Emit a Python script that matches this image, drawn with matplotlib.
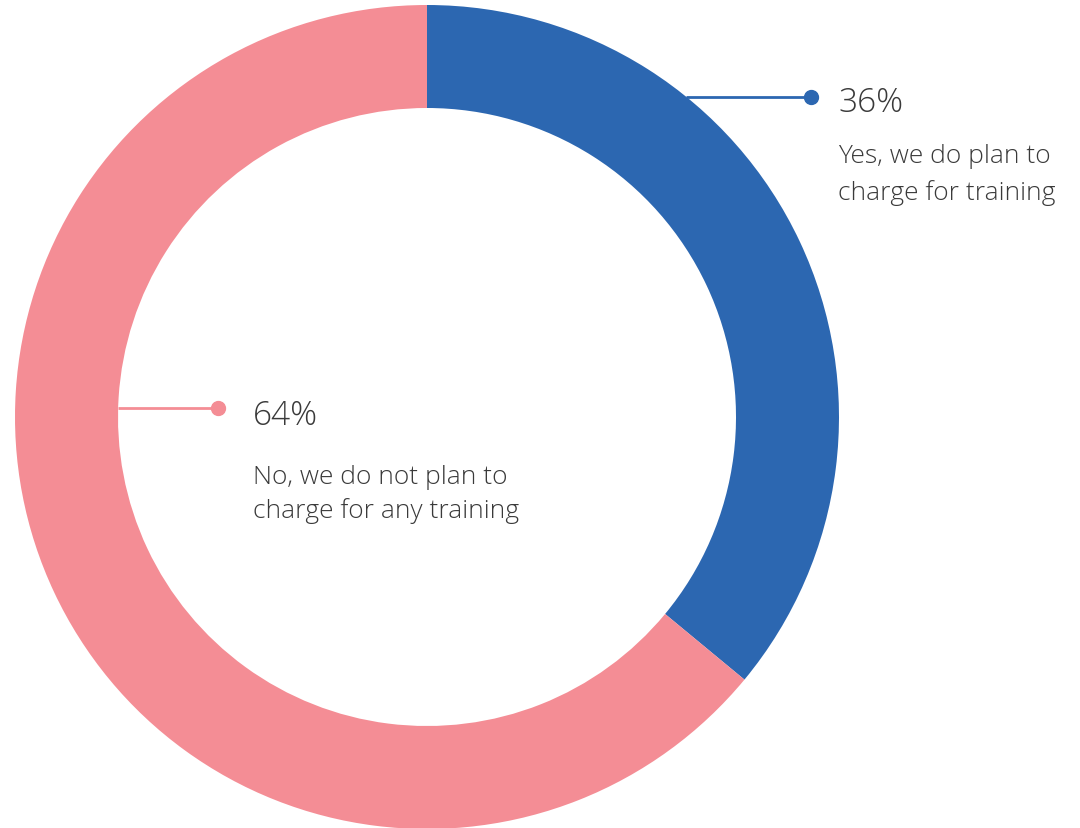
import matplotlib
matplotlib.use("Agg")
import matplotlib.pyplot as plt

# survey answer shares (percent)
labels = ["Yes, we do plan to\ncharge for training",
          "No, we do not plan to\ncharge for any training"]
shares = [36, 64]
colors = ["#2c67b1", "#f48d95"]

W, H = 1080, 829
fig = plt.figure(figsize=(W / 100, H / 100), dpi=100)
ax = fig.add_axes([0, 0, 1, 1])
ax.set_xlim(0, W)
ax.set_ylim(0, H)
ax.set_aspect("equal")
ax.axis("off")

cx, cy, r_out, ring = 427, H - 418, 412, 103
ax.pie(shares, colors=colors, startangle=90, counterclock=False,
       radius=r_out, center=(cx, cy),
       wedgeprops=dict(width=ring, linewidth=0), frame=True)
ax.set_xlim(0, W)
ax.set_ylim(0, H)
ax.axis("off")

txt = dict(family="Open Sans", fontweight="light", color="#3a3a3a")

# leader lines + labels (pixel layout, y measured from top)
callouts = [
    # (x0, x1, y_line, x_text, y_pct, y_line1, y_line2)
    (686, 811, 98, 838, 112, 163, 200),
    (118, 218, 409, 253, 425, 484, 518),
]
for (x0, x1, yl, xt, yp, y1, y2), lab, share, col in zip(
        callouts, labels, shares, colors):
    ax.plot([x0, x1], [H - yl, H - yl], color=col, lw=2,
            solid_capstyle="butt", zorder=3)
    ax.plot([x1], [H - yl], "o", color=col, ms=10, zorder=4)
    ax.text(xt, H - yp, f"{share}%", fontsize=24, va="baseline", **txt)
    line1, line2 = lab.split("\n")
    ax.text(xt, H - y1, line1, fontsize=19, va="baseline", **txt)
    ax.text(xt, H - y2, line2, fontsize=19, va="baseline", **txt)

fig.savefig("out.png", dpi=100)
